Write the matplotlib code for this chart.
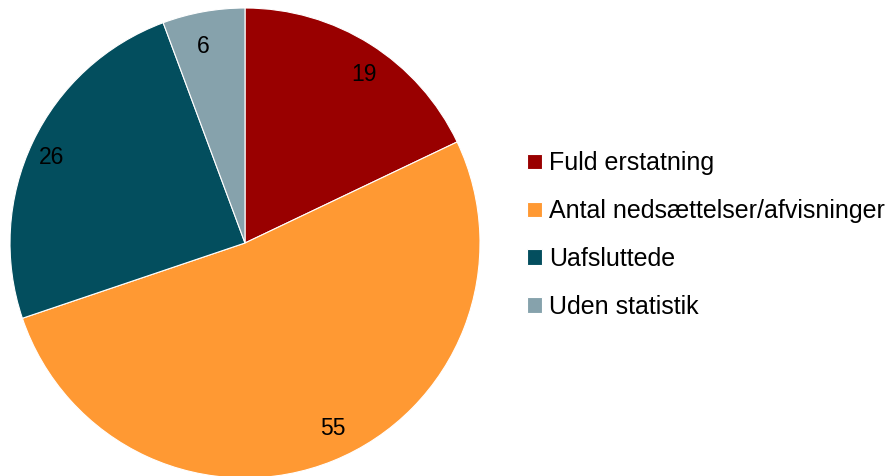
import matplotlib
matplotlib.use("Agg")
import matplotlib.pyplot as plt

labels = ["Fuld erstatning", "Antal nedsættelser/afvisninger", "Uafsluttede", "Uden statistik"]
values = [19, 55, 26, 6]
colors = ["#990000", "#FF9933", "#034E5E", "#86A2AC"]

plt.rcParams["font.family"] = ["Liberation Sans", "DejaVu Sans"]

fig = plt.figure(figsize=(8.86, 4.76), dpi=100)
W, H = 886, 476
cx, cy, r = 245, 243, 235
ax = fig.add_axes([(cx - r) / W, (H - cy - r) / H, 2 * r / W, 2 * r / H])

wedges, texts = ax.pie(values, colors=colors, startangle=90, counterclock=False,
                       labels=[str(v) for v in values], labeldistance=0.85,
                       wedgeprops=dict(edgecolor="white", linewidth=0.8),
                       textprops=dict(fontsize=16.5, color="black"))
ax.set_xlim(-1, 1)
ax.set_ylim(-1, 1)
ax.set_aspect("equal")

fig.legend(wedges, labels, loc="center left", bbox_to_anchor=(527 / W, 1 - 235 / H),
           frameon=False, fontsize=18, handlelength=0.58, handleheight=0.58,
           handletextpad=0.3, labelspacing=0.95, borderpad=0, borderaxespad=0)

fig.savefig("out.png", dpi=100)
